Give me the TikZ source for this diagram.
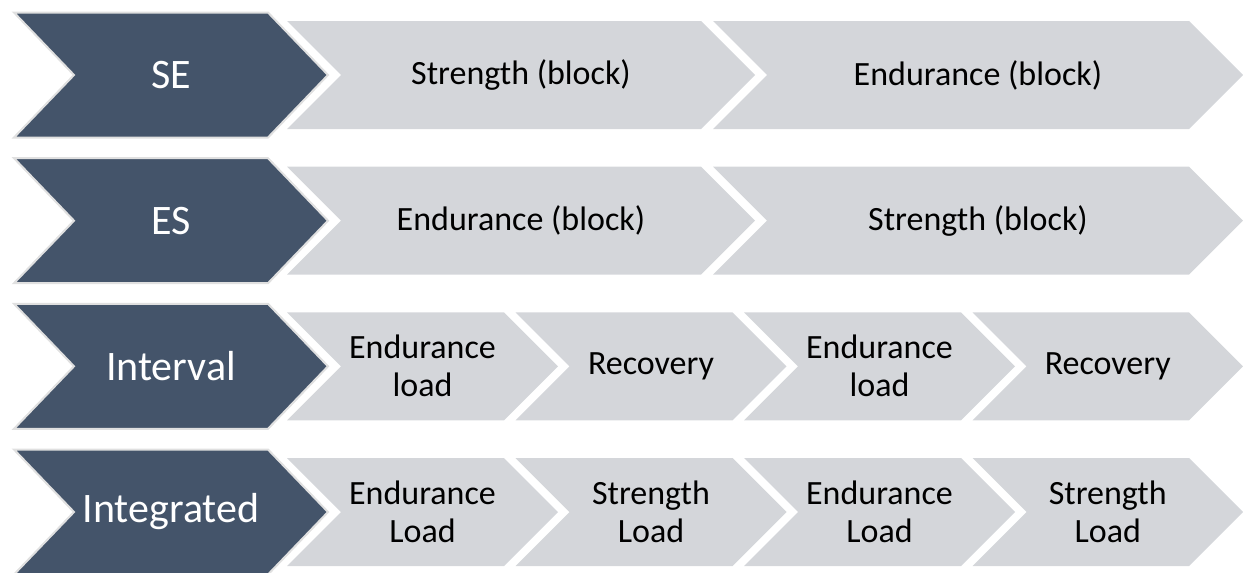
\documentclass[tikz,border=0pt]{standalone}
\usepackage{fontspec}
\setmainfont{Carlito}
\usepackage{tikz}

\definecolor{slate}{HTML}{44546A}
\definecolor{pale}{HTML}{D4D6DA}

% dark head chevron: #1 name, #2 centre y, #3 text
\newcommand{\headchev}[3]{%
  \filldraw[head] (14,#2-62.5) -- (268,#2-62.5) -- (328,#2) -- (268,#2+62.5) -- (14,#2+62.5) -- (74,#2) -- cycle;
  \node (#1) [headtext] at (171,#2) {#3};}
% light chevron: #1 name, #2 left, #3 right, #4 centre y, #5 text
\newcommand{\partchev}[5]{%
  \fill[part] (#2,#4-54) -- (#3,#4-54) -- (#3+54,#4) -- (#3,#4+54) -- (#2,#4+54) -- (#2+54,#4) -- cycle;
  \node (#1) [parttext] at ({(#2+#3+54)/2},#4) {#5};}

\begin{document}
\begin{tikzpicture}[
		x=1pt, y=-1pt,
		head/.style={fill=slate, draw=black!12, line width=2pt},
		part/.style={fill=pale},
		headtext/.style={inner sep=0pt, text=white, font=\fontsize{42}{46}\selectfont},
		parttext/.style={inner sep=0pt, align=center, font=\fontsize{34}{38}\selectfont}
	]
  \useasboundingbox (0,0) rectangle (1243,573);

  % SE
  \partchev{se1}{287}{701}{75}{Strength (block)}
  \partchev{se2}{713}{1189}{75}{Endurance (block)}
  \headchev{se}{75}{SE}

  % ES
  \partchev{es1}{287}{701}{220.7}{Endurance (block)}
  \partchev{es2}{713}{1189}{220.7}{Strength (block)}
  \headchev{es}{220.7}{ES}

  % Interval
  \partchev{iv1}{287}{504}{366.3}{Endurance\\load}
  \partchev{iv2}{515.5}{732.5}{366.3}{Recovery}
  \partchev{iv3}{744}{961}{366.3}{Endurance\\load}
  \partchev{iv4}{972.5}{1189}{366.3}{Recovery}
  \headchev{iv}{366.3}{Interval}

  % Integrated
  \partchev{ig1}{287}{504}{512}{Endurance\\Load}
  \partchev{ig2}{515.5}{732.5}{512}{Strength\\Load}
  \partchev{ig3}{744}{961}{512}{Endurance\\Load}
  \partchev{ig4}{972.5}{1189}{512}{Strength\\Load}
  \headchev{ig}{512}{Integrated}
\end{tikzpicture}
\end{document}
